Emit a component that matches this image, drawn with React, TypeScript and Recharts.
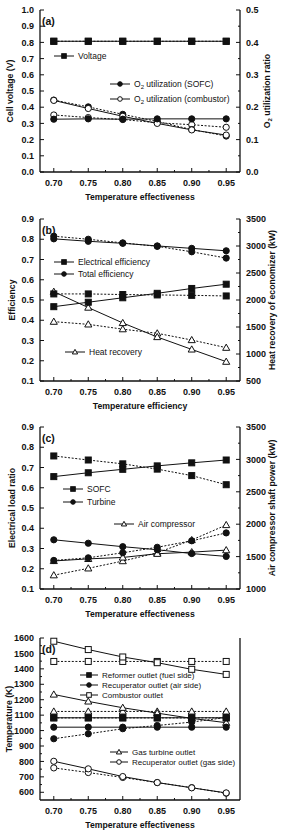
import React from 'react';
import { ComposedChart, Line, XAxis, YAxis } from 'recharts';

// Shared x values (temperature effectiveness) and x-axis ticks
const effectiveness = [0.7, 0.75, 0.8, 0.85, 0.9, 0.95];
const xTicks = [0.7, 0.725, 0.75, 0.775, 0.8, 0.825, 0.85, 0.875, 0.9, 0.925, 0.95];

// (a) cell voltage (left axis) and O2 utilization ratio (right axis)
const voltageSolid = [0.807, 0.807, 0.807, 0.807, 0.807, 0.807];
const voltageDotted = [0.807, 0.807, 0.807, 0.807, 0.807, 0.807];
const o2SofcSolid = [0.163, 0.164, 0.163, 0.164, 0.164, 0.164];
const o2SofcDotted = [0.222, 0.201, 0.178, 0.156, 0.131, 0.111];
const o2CombustorSolid = [0.221, 0.196, 0.172, 0.15, 0.13, 0.114];
const o2CombustorDotted = [0.176, 0.168, 0.162, 0.152, 0.146, 0.138];

// (b) efficiencies (left axis) and economizer heat recovery in kW (right axis)
const electricalSolid = [0.467, 0.489, 0.511, 0.533, 0.557, 0.578];
const electricalDotted = [0.53, 0.53, 0.527, 0.525, 0.523, 0.52];
const totalSolid = [0.802, 0.79, 0.78, 0.767, 0.755, 0.743];
const totalDotted = [0.815, 0.8, 0.782, 0.765, 0.738, 0.707];
const heatSolid = [2154, 1860, 1575, 1315, 1085, 858];
const heatDotted = [1599, 1549, 1460, 1383, 1259, 1117];

// (c) electrical load ratio (left axis) and air compressor shaft power in kW (right axis)
const sofcLoadSolid = [0.655, 0.674, 0.691, 0.708, 0.723, 0.737];
const sofcLoadDotted = [0.757, 0.737, 0.718, 0.692, 0.66, 0.615];
const turbineLoadSolid = [0.343, 0.326, 0.309, 0.294, 0.275, 0.261];
const turbineLoadDotted = [0.241, 0.254, 0.279, 0.306, 0.338, 0.377];
const compressorSolid = [1433, 1465, 1487, 1544, 1569, 1600];
const compressorDotted = [1213, 1319, 1431, 1559, 1756, 1988];

// (d) temperatures in K
const reformerSolid = [1083, 1083, 1083, 1083, 1083, 1083];
const reformerDotted = [1082, 1082, 1082, 1082, 1082, 1082];
const recupAirSolid = [1022, 1022, 1022, 1022, 1022, 1022];
const recupAirDotted = [947, 979, 1012, 1033, 1055, 1085];
const combustorSolid = [1579, 1525, 1477, 1440, 1397, 1364];
const combustorDotted = [1448, 1448, 1448, 1448, 1448, 1448];
const gasTurbineSolid = [1234, 1189, 1148, 1113, 1079, 1051];
const gasTurbineDotted = [1124, 1124, 1124, 1124, 1124, 1124];
const recupGasSolid = [801, 752, 702, 663, 629, 596];
const recupGasDotted = [758, 728, 696, 663, 630, 594];

// Axis ticks
const ticksA_left = [0, 0.1, 0.2, 0.3, 0.4, 0.5, 0.6, 0.7, 0.8, 0.9, 1.0];
const ticksA_right = [0, 0.05, 0.1, 0.15, 0.2, 0.25, 0.3, 0.35, 0.4, 0.45, 0.5];
const ticksBC_left = [0.1, 0.2, 0.3, 0.4, 0.5, 0.6, 0.7, 0.8, 0.9];
const ticksBC_right = [500, 750, 1000, 1250, 1500, 1750, 2000, 2250, 2500, 2750, 3000, 3250, 3500];
const ticksC_right = [1000, 1250, 1500, 1750, 2000, 2250, 2500, 2750, 3000, 3250, 3500];
const ticksD_left = [600, 650, 700, 750, 800, 850, 900, 950, 1000, 1050, 1100, 1150, 1200, 1250, 1300, 1350, 1400, 1450, 1500, 1550, 1600];

const FONT = '"Liberation Sans", Arial, Helvetica, sans-serif';
const INK = '#111';
const X_DOMAIN: [number, number] = [0.68, 0.97];

type Kind = 'square' | 'circle' | 'triangle';

interface SeriesSpec {
  key: string;
  values: number[];
  axis: 'l' | 'r';
  kind: Kind;
  filled: boolean;
  dotted: boolean;
}

interface AxisSpec {
  domain: [number, number];
  ticks: number[];
  major: (v: number) => boolean;
  fmt: ((v: number) => string) | null;
}

const onStep = (step: number) => (v: number) => Math.abs(v / step - Math.round(v / step)) < 1e-6;

function Marker({ cx, cy, kind, filled, s }: { cx: number; cy: number; kind: Kind; filled: boolean; s: number }) {
  if (cx == null || cy == null || isNaN(cx) || isNaN(cy)) return null;
  const fill = filled ? INK : '#fff';
  if (kind === 'square') {
    return <rect x={cx - s} y={cy - s} width={2 * s} height={2 * s} fill={fill} stroke={INK} strokeWidth={1} />;
  }
  if (kind === 'circle') {
    return <circle cx={cx} cy={cy} r={s} fill={fill} stroke={INK} strokeWidth={1} />;
  }
  const h = s * 1.15;
  return (
    <polygon
      points={`${cx},${cy - h} ${cx - s * 1.15},${cy + s * 0.85} ${cx + s * 1.15},${cy + s * 0.85}`}
      fill={fill}
      stroke={INK}
      strokeWidth={1}
    />
  );
}

type Side = 'bottom' | 'top' | 'left' | 'right';

// Inward-pointing ticks (major and minor) with labels outside the frame
function tickRenderer(side: Side, gap: number, spec: AxisSpec) {
  return (props: any) => {
    const { x, y, payload } = props;
    const v = payload.value as number;
    const major = spec.major(v);
    const len = major ? 4 : 2;
    const textStyle = { fontFamily: FONT, fontSize: 9, fontWeight: 700, fill: INK } as const;
    if (side === 'bottom') {
      const edge = y - gap;
      return (
        <g>
          <line x1={x} y1={edge} x2={x} y2={edge - len} stroke={INK} strokeWidth={1} />
          {major && spec.fmt ? (
            <text x={x} y={y} dy="0.71em" textAnchor="middle" style={textStyle}>
              {spec.fmt(v)}
            </text>
          ) : null}
        </g>
      );
    }
    if (side === 'top') {
      const edge = y + gap;
      return <line x1={x} y1={edge} x2={x} y2={edge + len} stroke={INK} strokeWidth={1} />;
    }
    if (side === 'left') {
      const edge = x + gap;
      return (
        <g>
          <line x1={edge} y1={y} x2={edge + len} y2={y} stroke={INK} strokeWidth={1} />
          {major && spec.fmt ? (
            <text x={x} y={y} dy="0.35em" textAnchor="end" style={textStyle}>
              {spec.fmt(v)}
            </text>
          ) : null}
        </g>
      );
    }
    const edge = x - gap;
    return (
      <g>
        <line x1={edge} y1={y} x2={edge - len} y2={y} stroke={INK} strokeWidth={1} />
        {major && spec.fmt ? (
          <text x={x} y={y} dy="0.35em" textAnchor="start" style={textStyle}>
            {spec.fmt(v)}
          </text>
        ) : null}
      </g>
    );
  };
}

const xBottom: AxisSpec = { domain: X_DOMAIN, ticks: xTicks, major: onStep(0.05), fmt: (v) => v.toFixed(2) };
const xTop: AxisSpec = { domain: X_DOMAIN, ticks: xTicks, major: onStep(0.05), fmt: null };
const axisLine = { stroke: INK, strokeWidth: 1.3 };

function Panel({ top, series, left, right }: { top: number; series: SeriesSpec[]; left: AxisSpec; right: AxisSpec }) {
  const rows = effectiveness.map((t, i) => {
    const r: Record<string, number> = { t };
    series.forEach((s) => {
      r[s.key] = s.values[i];
    });
    return r;
  });
  return (
    <div style={{ position: 'absolute', left: 0, top, width: 282, height: 200 }}>
      <ComposedChart width={282} height={200} data={rows} margin={{ top: 10, right: 0, bottom: 0, left: 0 }}>
        <XAxis
          xAxisId="b"
          dataKey="t"
          type="number"
          domain={xBottom.domain}
          ticks={xBottom.ticks}
          interval={0}
          height={28}
          tickSize={0}
          tickMargin={8}
          tickLine={false}
          axisLine={axisLine}
          tick={tickRenderer('bottom', 8, xBottom)}
        />
        <XAxis
          xAxisId="t"
          orientation="top"
          dataKey="t"
          type="number"
          domain={xTop.domain}
          ticks={xTop.ticks}
          interval={0}
          height={0}
          tickSize={0}
          tickMargin={0}
          tickLine={false}
          axisLine={axisLine}
          tick={tickRenderer('top', 0, xTop)}
        />
        <YAxis
          yAxisId="l"
          orientation="left"
          width={40}
          type="number"
          domain={left.domain}
          ticks={left.ticks}
          interval={0}
          tickSize={0}
          tickMargin={6}
          tickLine={false}
          axisLine={axisLine}
          tick={tickRenderer('left', 6, left)}
        />
        <YAxis
          yAxisId="r"
          orientation="right"
          width={42}
          type="number"
          domain={right.domain}
          ticks={right.ticks}
          interval={0}
          tickSize={0}
          tickMargin={6}
          tickLine={false}
          axisLine={axisLine}
          tick={tickRenderer('right', 6, right)}
        />
        {series.map((s) => (
          <Line
            key={s.key}
            xAxisId="b"
            yAxisId={s.axis}
            dataKey={s.key}
            type="linear"
            stroke={INK}
            strokeWidth={1}
            strokeDasharray={s.dotted ? '2 1.6' : undefined}
            isAnimationActive={false}
            activeDot={false}
            legendType="none"
            dot={(p: any) => (
              <Marker key={`${s.key}-${p.index}`} cx={p.cx} cy={p.cy} kind={s.kind} filled={s.filled} s={s.kind === 'square' ? 3 : 3.1} />
            )}
          />
        ))}
      </ComposedChart>
    </div>
  );
}

function LegendItem({ x, y, kind, filled, len = 20, fontSize = 8.5, children }: { x: number; y: number; kind: Kind; filled: boolean; len?: number; fontSize?: number; children: React.ReactNode }) {
  return (
    <g>
      <line x1={x} y1={y} x2={x + len} y2={y} stroke={INK} strokeWidth={1} />
      <Marker cx={x + len / 2} cy={y} kind={kind} filled={filled} s={2.3} />
      <text x={x + len + 4} y={y} dy="0.35em" style={{ fontFamily: FONT, fontSize, fill: INK }}>
        {children}
      </text>
    </g>
  );
}

const titleStyle = { fontFamily: FONT, fontSize: 8.7, fontWeight: 700, fill: INK } as const;
const panelLabelStyle = { fontFamily: FONT, fontSize: 10.5, fontWeight: 700, fill: INK } as const;

function AxisTitles({ top, xTitle, leftTitle, leftX, rightTitle, rightX, letter }: { top: number; xTitle: string; leftTitle: string; leftX: number; rightTitle?: React.ReactNode; rightX?: number; letter: string }) {
  const mid = top + 91;
  return (
    <g>
      <text x={140} y={top + 197} dy="0.35em" textAnchor="middle" style={titleStyle}>
        {xTitle}
      </text>
      <text x={leftX} y={mid} dy="0.35em" textAnchor="middle" transform={`rotate(-90 ${leftX} ${mid})`} style={titleStyle}>
        {leftTitle}
      </text>
      {rightTitle ? (
        <text x={rightX} y={mid} dy="0.35em" textAnchor="middle" transform={`rotate(-90 ${rightX} ${mid})`} style={titleStyle}>
          {rightTitle}
        </text>
      ) : null}
      <text x={42} y={top + 21} dy="0.35em" style={panelLabelStyle}>
        {letter}
      </text>
    </g>
  );
}

const TOP_A = 0;
const TOP_B = 209;
const TOP_C = 417;
const TOP_D = 628;

export default function App() {
  const seriesA: SeriesSpec[] = [
    { key: 'voltageDotted', values: voltageDotted, axis: 'l', kind: 'square', filled: true, dotted: true },
    { key: 'voltageSolid', values: voltageSolid, axis: 'l', kind: 'square', filled: true, dotted: false },
    { key: 'o2CombustorDotted', values: o2CombustorDotted, axis: 'r', kind: 'circle', filled: false, dotted: true },
    { key: 'o2SofcDotted', values: o2SofcDotted, axis: 'r', kind: 'circle', filled: true, dotted: true },
    { key: 'o2CombustorSolid', values: o2CombustorSolid, axis: 'r', kind: 'circle', filled: false, dotted: false },
    { key: 'o2SofcSolid', values: o2SofcSolid, axis: 'r', kind: 'circle', filled: true, dotted: false },
  ];
  const seriesB: SeriesSpec[] = [
    { key: 'heatDotted', values: heatDotted, axis: 'r', kind: 'triangle', filled: false, dotted: true },
    { key: 'heatSolid', values: heatSolid, axis: 'r', kind: 'triangle', filled: false, dotted: false },
    { key: 'electricalDotted', values: electricalDotted, axis: 'l', kind: 'square', filled: true, dotted: true },
    { key: 'electricalSolid', values: electricalSolid, axis: 'l', kind: 'square', filled: true, dotted: false },
    { key: 'totalDotted', values: totalDotted, axis: 'l', kind: 'circle', filled: true, dotted: true },
    { key: 'totalSolid', values: totalSolid, axis: 'l', kind: 'circle', filled: true, dotted: false },
  ];
  const seriesC: SeriesSpec[] = [
    { key: 'compressorDotted', values: compressorDotted, axis: 'r', kind: 'triangle', filled: false, dotted: true },
    { key: 'compressorSolid', values: compressorSolid, axis: 'r', kind: 'triangle', filled: false, dotted: false },
    { key: 'sofcLoadDotted', values: sofcLoadDotted, axis: 'l', kind: 'square', filled: true, dotted: true },
    { key: 'sofcLoadSolid', values: sofcLoadSolid, axis: 'l', kind: 'square', filled: true, dotted: false },
    { key: 'turbineLoadDotted', values: turbineLoadDotted, axis: 'l', kind: 'circle', filled: true, dotted: true },
    { key: 'turbineLoadSolid', values: turbineLoadSolid, axis: 'l', kind: 'circle', filled: true, dotted: false },
  ];
  const seriesD: SeriesSpec[] = [
    { key: 'combustorDotted', values: combustorDotted, axis: 'l', kind: 'square', filled: false, dotted: true },
    { key: 'combustorSolid', values: combustorSolid, axis: 'l', kind: 'square', filled: false, dotted: false },
    { key: 'gasTurbineDotted', values: gasTurbineDotted, axis: 'l', kind: 'triangle', filled: false, dotted: true },
    { key: 'gasTurbineSolid', values: gasTurbineSolid, axis: 'l', kind: 'triangle', filled: false, dotted: false },
    { key: 'reformerDotted', values: reformerDotted, axis: 'l', kind: 'square', filled: true, dotted: true },
    { key: 'reformerSolid', values: reformerSolid, axis: 'l', kind: 'square', filled: true, dotted: false },
    { key: 'recupAirDotted', values: recupAirDotted, axis: 'l', kind: 'circle', filled: true, dotted: true },
    { key: 'recupAirSolid', values: recupAirSolid, axis: 'l', kind: 'circle', filled: true, dotted: false },
    { key: 'recupGasDotted', values: recupGasDotted, axis: 'l', kind: 'circle', filled: false, dotted: true },
    { key: 'recupGasSolid', values: recupGasSolid, axis: 'l', kind: 'circle', filled: false, dotted: false },
  ];

  const fmt1 = (v: number) => v.toFixed(1);
  const fmt0 = (v: number) => String(Math.round(v));

  const aLeft: AxisSpec = { domain: [0, 1], ticks: ticksA_left, major: onStep(0.1), fmt: fmt1 };
  const aRight: AxisSpec = { domain: [0, 0.5], ticks: ticksA_right, major: onStep(0.1), fmt: fmt1 };
  const bLeft: AxisSpec = { domain: [0.1, 0.9], ticks: ticksBC_left, major: onStep(0.1), fmt: fmt1 };
  const bRight: AxisSpec = { domain: [500, 3500], ticks: ticksBC_right, major: onStep(500), fmt: fmt0 };
  const cLeft: AxisSpec = { domain: [0.1, 0.9], ticks: ticksBC_left, major: onStep(0.1), fmt: fmt1 };
  const cRight: AxisSpec = { domain: [1000, 3500], ticks: ticksC_right, major: onStep(500), fmt: fmt0 };
  const dLeft: AxisSpec = { domain: [550, 1600], ticks: ticksD_left, major: onStep(100), fmt: fmt0 };
  const dRight: AxisSpec = { domain: [550, 1600], ticks: ticksD_left, major: onStep(100), fmt: null };

  const o2 = (rest: string) => (
    <>
      <tspan>O</tspan>
      <tspan fontSize="6" dy="2">2</tspan>
      <tspan dy="-2">{rest}</tspan>
    </>
  );

  return (
    <div style={{ position: 'absolute', left: 0, top: 0, width: 282, height: 831, background: '#fff', overflow: 'hidden' }}>
      <Panel top={TOP_A} series={seriesA} left={aLeft} right={aRight} />
      <Panel top={TOP_B} series={seriesB} left={bLeft} right={bRight} />
      <Panel top={TOP_C} series={seriesC} left={cLeft} right={cRight} />
      <Panel top={TOP_D} series={seriesD} left={dLeft} right={dRight} />
      <svg width={282} height={831} style={{ position: 'absolute', left: 0, top: 0, pointerEvents: 'none' }}>
        <AxisTitles
          top={TOP_A}
          xTitle="Temperature effectiveness"
          leftTitle="Cell voltage (V)"
          leftX={10}
          rightTitle={o2(' utilization ratio')}
          rightX={267}
          letter="(a)"
        />
        <LegendItem x={54} y={56} kind="square" filled>Voltage</LegendItem>
        <LegendItem x={110} y={84} kind="circle" filled>{o2(' utilization (SOFC)')}</LegendItem>
        <LegendItem x={110} y={99} kind="circle" filled={false}>{o2(' utilization (combustor)')}</LegendItem>

        <AxisTitles
          top={TOP_B}
          xTitle="Temperature efficiency"
          leftTitle="Efficiency"
          leftX={12}
          rightTitle="Heat recovery of economizer (kW)"
          rightX={272}
          letter="(b)"
        />
        <LegendItem x={54} y={262} kind="square" filled>Electrical efficiency</LegendItem>
        <LegendItem x={54} y={274} kind="circle" filled>Total efficiency</LegendItem>
        <LegendItem x={65} y={352} kind="triangle" filled={false}>Heat recovery</LegendItem>

        <AxisTitles
          top={TOP_C}
          xTitle="Temperature effectiveness"
          leftTitle="Electrical load ratio"
          leftX={12}
          rightTitle="Air compressor shaft power (kW)"
          rightX={272}
          letter="(c)"
        />
        <LegendItem x={63} y={489} kind="square" filled>SOFC</LegendItem>
        <LegendItem x={63} y={502} kind="circle" filled>Turbine</LegendItem>
        <LegendItem x={114} y={524} kind="triangle" filled={false}>Air compressor</LegendItem>

        <AxisTitles
          top={TOP_D}
          xTitle="Temperature effectiveness"
          leftTitle="Temperature (K)"
          leftX={9}
          letter="(d)"
        />
        <LegendItem x={80} y={675} kind="square" filled len={18} fontSize={8}>Reformer outlet (fuel side)</LegendItem>
        <LegendItem x={80} y={685} kind="circle" filled len={18} fontSize={8}>Recuperator outlet (air side)</LegendItem>
        <LegendItem x={80} y={695} kind="square" filled={false} len={18} fontSize={8}>Combustor outlet</LegendItem>
        <LegendItem x={110} y={752} kind="triangle" filled={false} len={18} fontSize={8}>Gas turbine outlet</LegendItem>
        <LegendItem x={110} y={762} kind="circle" filled={false} len={18} fontSize={8}>Recuperator outlet (gas side)</LegendItem>
      </svg>
    </div>
  );
}
